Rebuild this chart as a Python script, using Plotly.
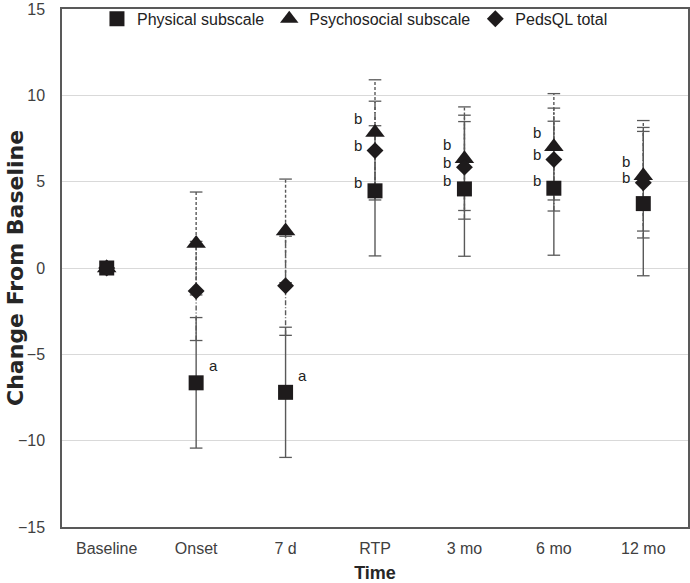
import plotly.graph_objects as go

categories = ["Baseline", "Onset", "7 d", "RTP", "3 mo", "6 mo", "12 mo"]

physical_mean = [0, -6.65, -7.2, 4.47, 4.58, 4.62, 3.73]
physical_err = [0, 3.78, 3.77, 3.77, 3.9, 3.88, 4.18]

psych_mean = [0, 1.42, 2.15, 7.85, 6.33, 7.02, 5.34]
psych_err = [0, 2.98, 3.0, 3.05, 3.0, 3.08, 3.2]

total_mean = [0, -1.33, -1.03, 6.8, 5.84, 6.28, 4.94]
total_err = [0, 2.87, 2.87, 2.86, 3.01, 2.98, 3.2]

physical_sig = ["", "a", "a", "b", "b", "b", ""]
psych_sig = ["", "", "", "b", "b", "b", "b"]
total_sig = ["", "", "", "b", "b", "b", "b"]

y_ticks = [-15, -10, -5, 0, 5, 10, 15]

MARK = "#1e1b1c"
BAR = "#595959"
FONT = "Liberation Sans, Arial, sans-serif"

fig = go.Figure()


def err_traces(mean, err, dash):
    xs, ys, cx, cy = [], [], [], []
    for c, m, e in zip(categories, mean, err):
        if e <= 0:
            continue
        xs += [c, c, None]
        ys += [m - e, m + e, None]
        cx += [c, c]
        cy += [m - e, m + e]
    fig.add_trace(go.Scatter(x=xs, y=ys, mode="lines", showlegend=False,
                             hoverinfo="skip",
                             line=dict(color=BAR, width=1.4, dash=dash)))
    fig.add_trace(go.Scatter(x=cx, y=cy, mode="markers", showlegend=False,
                             hoverinfo="skip",
                             marker=dict(symbol="line-ew", size=9,
                                         line=dict(color=BAR, width=1.3))))


err_traces(psych_mean, psych_err, "3px,2px")
err_traces(total_mean, total_err, "5px,2px,1px,2px")
err_traces(physical_mean, physical_err, "solid")

fig.add_trace(go.Scatter(x=categories, y=physical_mean, mode="markers",
                         name="Physical subscale",
                         marker=dict(symbol="square", size=15, color=MARK)))
fig.add_trace(go.Scatter(x=categories, y=psych_mean, mode="markers",
                         name="Psychosocial subscale",
                         marker=dict(symbol="triangle-up", size=17, color=MARK)))
fig.add_trace(go.Scatter(x=categories, y=total_mean, mode="markers",
                         name="PedsQL total",
                         marker=dict(symbol="diamond", size=13, color=MARK)))

annotations = []
for c, m, s in zip(categories, physical_mean, physical_sig):
    if s == "a":
        annotations.append(dict(x=c, y=m, text=s, showarrow=False,
                                xshift=17, yshift=17))
    elif s:
        annotations.append(dict(x=c, y=m, text=s, showarrow=False,
                                xshift=-17, yshift=8))
for c, m, s in zip(categories, psych_mean, psych_sig):
    if s:
        annotations.append(dict(x=c, y=m, text=s, showarrow=False,
                                xshift=-17, yshift=14))
for c, m, s in zip(categories, total_mean, total_sig):
    if s:
        annotations.append(dict(x=c, y=m, text=s, showarrow=False,
                                xshift=-17, yshift=5))
for a in annotations:
    a["font"] = dict(family=FONT, size=15, color="#222222")

# y-axis title placed as rotated text left of the tick labels
annotations.append(dict(xref="paper", yref="paper", x=0, y=0.5,
                        xanchor="center", yanchor="middle", xshift=-47,
                        text="<b>Change From Baseline</b>", textangle=-90,
                        showarrow=False,
                        font=dict(size=22, color="#262626",
                                  family="DejaVu Sans, sans-serif")))

fig.update_layout(
    width=690, height=583,
    margin=dict(l=62, r=2, t=7, b=56),
    paper_bgcolor="white", plot_bgcolor="white",
    font=dict(family=FONT, size=16, color="#404040"),
    annotations=annotations,
    legend=dict(orientation="h", x=0.468, xanchor="center",
                y=0.981, yanchor="middle",
                font=dict(size=16, color="#222222"),
                bgcolor="rgba(0,0,0,0)", itemwidth=30, tracegroupgap=0),
    xaxis=dict(type="category", categoryorder="array",
               categoryarray=categories, range=[-0.5, 6.5],
               showgrid=False, showline=True, linecolor="#595959",
               linewidth=1.5, mirror=True, ticks="", automargin=False,
               ticklabelstandoff=6,
               title=dict(text="<b>Time</b>", standoff=15,
                          font=dict(size=18, color="#262626"))),
    yaxis=dict(range=[-15, 15], tickvals=y_ticks, showgrid=True,
               gridcolor="#d9d9d9", gridwidth=1, zeroline=False,
               showline=True, linecolor="#595959", linewidth=1.5,
               mirror=True, ticks="", ticklabelstandoff=12,
               automargin=False, ticklabeloverflow="allow"),
)

fig.write_html("out.html", config={"displayModeBar": False},
               post_script="document.body.style.margin='0';")
